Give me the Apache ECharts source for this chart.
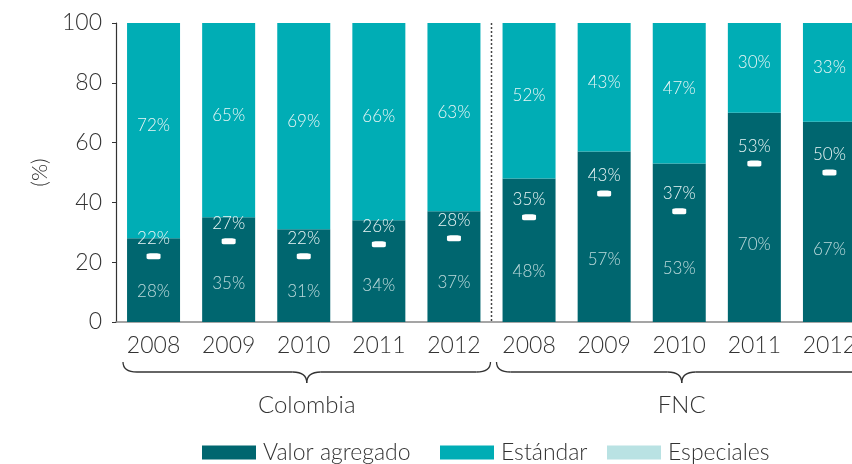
<!DOCTYPE html>
<html>
<head>
<meta charset="utf-8">
<script src="https://cdn.jsdelivr.net/npm/echarts@6/dist/echarts.min.js"></script>
<style>
html,body{margin:0;padding:0;background:#fff;}
#chart{width:852px;height:464px;}
</style>
</head>
<body>
<div id="chart"></div>
<script>
// ---- data ----
const groups = ['Colombia', 'FNC'];
const years = ['2008', '2009', '2010', '2011', '2012'];
const valorAgregado = [28, 35, 31, 34, 37, 48, 57, 53, 70, 67];
const estandar = [72, 65, 69, 66, 63, 52, 43, 47, 30, 33];
const especiales = [22, 27, 22, 26, 28, 35, 43, 37, 53, 50];
const yTicks = [0, 20, 40, 60, 80, 100];
const legendNames = ['Valor agregado', 'Estándar', 'Especiales'];

const categories = [];
groups.forEach(g => years.forEach(y => categories.push(g + '|' + y)));

const FONT = 'Lato';
const FW = 300;
const DARK = '#00666f';
const CYAN = '#00adb5';
const LIGHT = '#b9e2e3';
const TXT = '#333333';
const LBL = '#eaf6f6';

const chart = echarts.init(document.getElementById('chart'), null, {renderer: 'canvas'});

const legendLeft = [197, 435, 602];
const legendColors = [DARK, CYAN, LIGHT];
const legends = legendNames.map((nm, i) => ({
  left: legendLeft[i], top: 436,
  itemWidth: 54, itemHeight: 14,
  icon: 'rect',
  textStyle: {fontFamily: FONT, fontWeight: FW, fontSize: 23, color: TXT, padding: [0, 0, 0, 2]},
  data: [{name: nm, itemStyle: {color: legendColors[i]}}]
}));

const option = {
  animation: false,
  textStyle: {fontFamily: FONT, fontWeight: FW},
  grid: {left: 116, width: 751, top: 23, bottom: 142, containLabel: false, outerBoundsMode: 'none'},
  legend: legends,
  xAxis: {
    type: 'category',
    data: categories,
    axisLine: {lineStyle: {color: '#888888', width: 1.5}},
    axisTick: {length: 5, lineStyle: {color: '#666666'}},
    axisLabel: {
      fontFamily: FONT, fontWeight: FW, fontSize: 23, color: TXT, margin: 12,
      formatter: v => v.split('|')[1]
    }
  },
  yAxis: {
    type: 'value', min: 0, max: 100, interval: 20,
    name: '(%)', nameLocation: 'middle', nameRotate: 90, nameGap: 56,
    nameTextStyle: {fontFamily: FONT, fontWeight: FW, fontSize: 22, color: TXT},
    axisLine: {show: true, lineStyle: {color: '#333333', width: 1.2}},
    axisTick: {show: true, length: 4, lineStyle: {color: '#333333'}},
    axisLabel: {fontFamily: FONT, fontWeight: FW, fontSize: 23, color: TXT, margin: 14,
      formatter: v => yTicks.includes(v) ? String(v) : ''},
    splitLine: {show: false}
  },
  series: [
    {
      name: 'Valor agregado', type: 'bar', stack: 'total', barWidth: 53,
      data: valorAgregado,
      itemStyle: {color: DARK},
      label: {show: false}
    },
    {
      name: 'Estándar', type: 'bar', stack: 'total', barWidth: 53,
      data: estandar,
      itemStyle: {color: CYAN},
      label: {show: true, position: 'inside', offset: [0, -5],
        formatter: p => p.value + '%',
        fontFamily: FONT, fontWeight: FW, fontSize: 17, color: LBL}
    },
    {
      name: 'Especiales', type: 'scatter',
      data: especiales.map((v, i) => [i, v]),
      symbol: 'roundRect', symbolSize: [14, 6],
      itemStyle: {color: '#ffffff', opacity: 1},
      label: {show: true, position: 'top', distance: 6,
        formatter: p => p.value[1] + '%',
        fontFamily: FONT, fontWeight: FW, fontSize: 17, color: LBL},
      z: 5
    },
    {
      name: 'vaLabels', type: 'scatter',
      data: especiales.map((v, i) => [i, v / 2]),
      symbol: 'rect', symbolSize: 2,
      itemStyle: {color: 'rgba(0,0,0,0)'},
      label: {show: true, position: 'inside', offset: [0, 2],
        formatter: p => valorAgregado[p.dataIndex] + '%',
        fontFamily: FONT, fontWeight: FW, fontSize: 17, color: LBL},
      z: 5, silent: true
    }
  ]
};
chart.setOption(option);

// ---- annotations: separator, braces, group names ----
const xPix = i => chart.convertToPixel({xAxisIndex: 0}, i);
const yPix = v => chart.convertToPixel({yAxisIndex: 0}, v);
const step = xPix(1) - xPix(0);
const per = years.length;
const yTop = yPix(100), yZero = yPix(0);
const sep = xPix(per - 1) + step / 2;
const braceStyle = {stroke: '#333333', lineWidth: 1.3, fill: null};

function braceParts(x1, x2, y0) {
  const yh = y0 + 10, tip = y0 + 21, xm = (x1 + x2) / 2, r = 14;
  const curve = (a, b, c, d, e, f) => ({type: 'bezierCurve',
    shape: {x1: a, y1: b, cpx1: c, cpy1: d, x2: e, y2: f}, style: braceStyle});
  const line = (a, b, c, d) => ({type: 'line', shape: {x1: a, y1: b, x2: c, y2: d}, style: braceStyle});
  return [
    curve(x1, y0, x1, yh, x1 + r, yh),
    line(x1 + r, yh, xm - r, yh),
    curve(xm - r, yh, xm, yh, xm, tip),
    curve(xm, tip, xm, yh, xm + r, yh),
    line(xm + r, yh, x2 - r, yh),
    curve(x2 - r, yh, x2, yh, x2, y0)
  ];
}

const graphics = [
  {type: 'line', shape: {x1: sep, y1: yTop, x2: sep, y2: yZero},
   style: {stroke: '#444444', lineWidth: 1.5, lineDash: [2, 2]}, z: 10}
];
groups.forEach((g, gi) => {
  const left = xPix(gi * per) - step / 2;
  const right = xPix(gi * per + per - 1) + step / 2;
  const x1 = left + (gi === 0 ? 7 : 5);
  const x2 = right - (gi === 0 ? 1 : 0);
  braceParts(x1, x2, yZero + 40).forEach(el => graphics.push(el));
  graphics.push({type: 'text', x: (x1 + x2) / 2, y: yZero + 83,
    style: {text: g, fontFamily: FONT, fontWeight: FW, fontSize: 24, fill: TXT,
      textAlign: 'center', textVerticalAlign: 'middle'}});
});
chart.setOption({graphic: graphics});
</script>
</body>
</html>
